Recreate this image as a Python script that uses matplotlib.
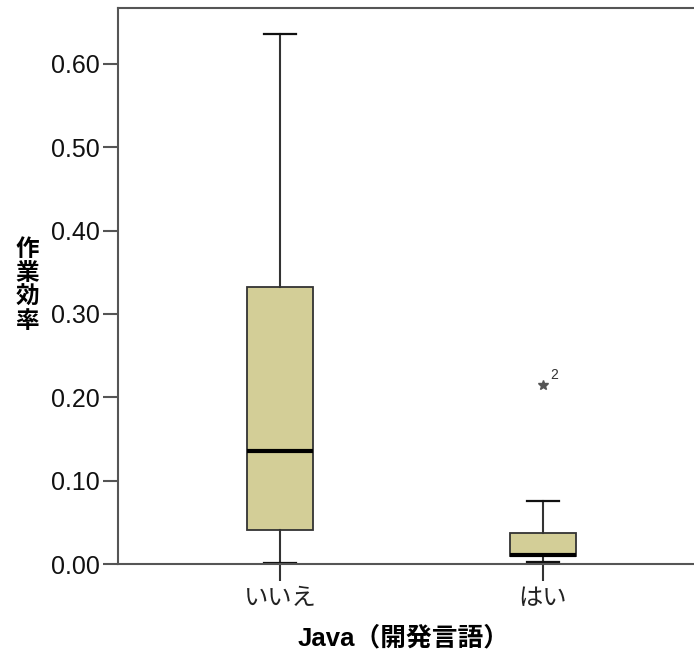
import matplotlib
matplotlib.use('Agg')
import matplotlib.pyplot as plt

plt.rcParams['font.family'] = ['Liberation Sans', 'Noto Sans CJK JP']

# data
categories = ['いいえ', 'はい']
whislo = [0.001, 0.002]
q1 = [0.041, 0.009]
med = [0.135, 0.011]
q3 = [0.332, 0.037]
whishi = [0.636, 0.075]
outliers = [[], [0.215]]
outlier_ids = [[], ['2']]

stats = []
for i, name in enumerate(categories):
    stats.append(dict(label=name, whislo=whislo[i], q1=q1[i], med=med[i],
                      q3=q3[i], whishi=whishi[i], fliers=outliers[i]))

fig = plt.figure(figsize=(6.94, 6.55), dpi=100)
ax = fig.add_axes([118 / 694, 1 - 564 / 655, 587 / 694, 556 / 655])

edge = '#333333'
ax.bxp(stats, positions=[1, 2], widths=0.25, capwidths=0.125,
       patch_artist=True,
       boxprops=dict(facecolor='#d3ce97', edgecolor=edge, linewidth=1.3),
       whiskerprops=dict(color=edge, linewidth=1.5),
       capprops=dict(color='#111111', linewidth=1.6),
       medianprops=dict(color='black', linewidth=3),
       flierprops=dict(marker='*', markersize=7, markerfacecolor='#555555',
                       markeredgecolor='#555555'))

for i, ids in enumerate(outlier_ids):
    for v, lab in zip(outliers[i], ids):
        ax.annotate(lab, xy=(i + 1, v), xytext=(5, 4), textcoords='offset points',
                    fontsize=10, color='#333333')

ax.set_xlim(0.384, 2.616)
ax.set_ylim(0, 0.667)
ax.set_yticks([0, 0.1, 0.2, 0.3, 0.4, 0.5, 0.6])
ax.set_yticklabels([f'{v:.2f}' for v in ax.get_yticks()])
ax.set_xticks([1, 2])
ax.set_xticklabels(categories, family=['Noto Sans CJK JP'])

for side in ['left', 'top', 'bottom']:
    ax.spines[side].set_color('#555555')
    ax.spines[side].set_linewidth(1.5)
ax.spines['right'].set_visible(False)

ax.tick_params(axis='y', direction='out', length=11, width=1.5, color='#555555',
               labelsize=18, pad=2, labelcolor='#111111')
ax.tick_params(axis='x', direction='out', length=12, width=1.5, color='#333333',
               labelsize=17.5, pad=3, labelcolor='#222222')

ax.set_xlabel('Java（開発言語）', fontsize=18.5, fontweight='bold', va='center')
ax.xaxis.set_label_coords((404 - 118) / 587, -(638 - 564) / 556)
fig.text(27 / 694, 1 - 285 / 655, '作\n業\n効\n率', fontsize=17, fontweight='bold',
         family=['Noto Sans CJK JP'], ha='center', va='center', linespacing=1.0)

fig.savefig('out.png', dpi=100)
